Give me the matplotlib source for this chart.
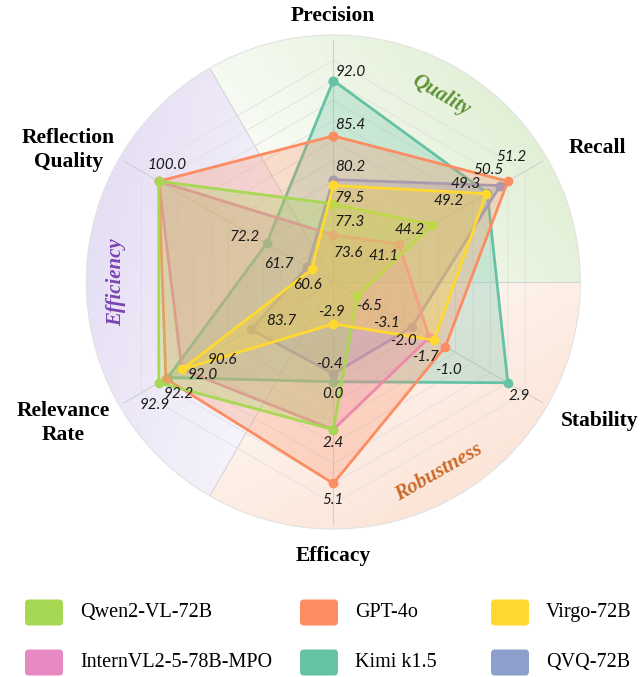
import numpy as np
import matplotlib
matplotlib.use('Agg')
import matplotlib.pyplot as plt
from matplotlib.colors import LinearSegmentedColormap
from matplotlib.patches import FancyBboxPatch

# metrics (clockwise from top) and per-axis ranges
metrics = ['Precision', 'Recall', 'Stability', 'Efficacy', 'Relevance\nRate', 'Reflection\nQuality']
axis_lo = [68.0, 35.0, -8.0, -5.0, 75.5, 55.0]
axis_hi = [92.0, 51.2, 2.9, 5.1, 92.9, 100.0]

models = ['Qwen2-VL-72B', 'InternVL2-5-78B-MPO', 'GPT-4o', 'Kimi k1.5', 'Virgo-72B', 'QVQ-72B']
colors = ['#a6d854', '#e78ac3', '#fc8d62', '#66c2a5', '#ffd92f', '#8da0cb']

qwen = [77.3, 44.2, -6.5, 2.4, 92.9, 100.0]
internvl = [73.6, 41.1, -2.0, 2.4, 90.6, 100.0]
gpt4o = [85.4, 51.2, -1.0, 5.1, 92.2, 100.0]
kimi = [92.0, 49.3, 2.9, 0.0, 92.0, 72.2]
virgo = [79.5, 49.2, -1.7, -2.9, 90.6, 60.6]
qvq = [80.2, 50.5, -3.1, -0.4, 83.7, 61.7]
scores = [qwen, internvl, gpt4o, kimi, virgo, qvq]

# drawing order (bottom -> top)
draw_order = [3, 5, 1, 2, 0, 4]

sectors = ['Quality', 'Robustness', 'Efficiency']
sector_colors = ['#d2e7bf', '#f9d6c2', '#d8cdee']
sector_text_colors = ['#5f9136', '#cc6a28', '#7b44b3']
sector_peak = [-25, 0, -15]  # angular shift of the strongest part (deg)

# value labels: (axis, model index, dx px, dy px)
value_labels = [
    (0, 3, 17, -9), (0, 2, 17, -11), (0, 5, 17, -13), (0, 4, 16, 13), (0, 0, 16, 18), (0, 1, 15, 18),
    (1, 2, 4, -24), (1, 5, -12, -16), (1, 3, -22, -9), (1, 4, -38, 7), (1, 0, -23, 5), (1, 1, -15, 12),
    (2, 3, 11, 13), (2, 2, 3, 23), (2, 4, -9, 17), (2, 1, -26, 4), (2, 5, -25, -4), (2, 0, 12, 10),
    (3, 2, 0, 17), (3, 0, 0, 13), (3, 3, 0, 12), (3, 5, -4, -10), (3, 4, -2, -12),
    (4, 0, -4, 22), (4, 2, 13, 15), (4, 3, 35, -3), (4, 4, 40, -9), (4, 5, 30, -8),
    (5, 0, 8, -16), (5, 3, -22, -6), (5, 5, -28, -3), (5, 4, -4, 16),
]

W, H = 644, 677
cx, cy, R1 = 333.3, 282.0, 201.5
rlim = 1.226
rad = rlim * R1

fig = plt.figure(figsize=(W / 100, H / 100), dpi=100)
ax = fig.add_axes([(cx - rad) / W, (H - cy - rad) / H, 2 * rad / W, 2 * rad / H], projection='polar')
ax.set_ylim(0, rlim)
ax.set_xticks([])
ax.set_yticks([])
ax.grid(False)
ax.spines['polar'].set_color('#e2e2e2')
ax.spines['polar'].set_linewidth(0.8)

n = len(metrics)
angles = np.deg2rad(90 - 60 * np.arange(n))
closed = np.append(angles, angles[0])

# gradient sectors
centers = np.deg2rad([60, -60, 180])
for c, col, pk in zip(centers, sector_colors, sector_peak):
    th = np.linspace(c - np.pi / 3, c + np.pi / 3, 121)
    rr = np.linspace(0, rlim, 90)
    T, Rg = np.meshgrid(th, rr)
    tc = 0.5 * (th[1:] + th[:-1])
    rc = 0.5 * (rr[1:] + rr[:-1])
    TC, RC = np.meshgrid(tc, rc)
    ang = 0.45 + 0.55 * np.cos((TC - (c + np.deg2rad(pk))) * 1.2)
    inten = (0.2 + 0.45 * RC / rlim) * ang
    cmap = LinearSegmentedColormap.from_list('g', ['#ffffff', col])
    ax.pcolormesh(T, Rg, inten, cmap=cmap, vmin=0, vmax=1, shading='flat',
                  zorder=0, rasterized=True, antialiased=False, linewidth=0)

# sector boundaries
for b in np.deg2rad([120, 0, -120]):
    ax.plot([b, b], [0, rlim], color='#d4d4d4', lw=0.8, zorder=1)

# hexagon grid and spokes
for k in range(1, 12):
    ax.plot(closed, [0.1 * k] * (n + 1), color='#e0e0e0', lw=0.6, zorder=1)
for a in angles:
    ax.plot([a, a], [0, 1.2], color='#d0d0d0', lw=0.8, zorder=1)


def norm(vals):
    return [(v - lo) / (hi - lo) for v, lo, hi in zip(vals, axis_lo, axis_hi)]


for z, i in enumerate(draw_order):
    r = norm(scores[i])
    r = r + r[:1]
    ax.fill(closed, r, color=colors[i], alpha=0.28, lw=0, zorder=2 + z)
    ax.plot(closed, r, color=colors[i], lw=2.0, marker='o', ms=6, zorder=2 + z)

for axis, m, dx, dy in value_labels:
    v = scores[m][axis]
    r = (v - axis_lo[axis]) / (axis_hi[axis] - axis_lo[axis])
    ax.annotate(f'{v:.1f}', xy=(angles[axis], r), xytext=(dx * 0.72, -dy * 0.72),
                textcoords='offset points', ha='center', va='center',
                fontsize=11, family='Lato', style='italic', color='#1a1a1a', zorder=20)

# axis titles
label_pos = [(90, 1.32), (26.9, 1.47), (-27.6, 1.49), (-90, 1.36), (-152.4, 1.51), (153.5, 1.47)]
for name, (t, r) in zip(metrics, label_pos):
    ax.text(np.deg2rad(t), r, name, ha='center', va='center', fontsize=15.5,
            family='Liberation Serif', weight='bold', linespacing=1.3, clip_on=False)

# sector titles
sector_pos = [(60, 1.07, -30), (-60.9, 1.08, 30), (180, 1.08, 90)]
for s, (t, r, rot), col in zip(sectors, sector_pos, sector_text_colors):
    ax.text(np.deg2rad(t), r, s, ha='center', va='center', fontsize=15, rotation=rot,
            rotation_mode='anchor', family='Liberation Serif', style='italic', weight='bold',
            color=col, zorder=20)

# legend
leg_order = [0, 2, 4, 1, 3, 5]
col_x = [25, 300, 491]
row_y = [612.5, 662.5]
for k, i in enumerate(leg_order):
    x0 = col_x[k % 3]
    y0 = row_y[k // 3]
    box = FancyBboxPatch((x0 / W, (H - y0 - 13) / H), 38 / W, 26 / H,
                         boxstyle='round,pad=0,rounding_size=0.006',
                         transform=fig.transFigure, facecolor=colors[i], edgecolor='none')
    fig.patches.append(box)
    fig.text((x0 + 55) / W, (H - y0) / H, models[i], ha='left', va='center',
             fontsize=14.5, family='Liberation Serif')

fig.savefig('out.png', dpi=100)
